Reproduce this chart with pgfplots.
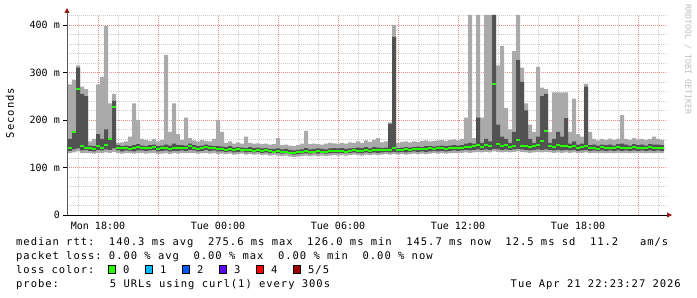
\documentclass[border=0pt]{standalone}
\usepackage{pgfplots}
\pgfplotsset{compat=1.18}
\usepackage{pgfplotstable}
\usepgfplotslibrary{fillbetween}
\usetikzlibrary{arrows.meta}
\usepackage{fontspec}
\newfontfamily\dvm{DejaVu Sans Mono}
\newfontfamily\dvmL{DejaVu Sans Mono}[LetterSpace=9.2]
\newcommand\tickfont{\dvm\fontsize{10bp}{12bp}\selectfont}
\newcommand\legfont{\dvmL\fontsize{10.5bp}{12bp}\selectfont\frenchspacing}
\definecolor{smokeL}{RGB}{170,170,170}
\definecolor{smokeD}{RGB}{82,82,82}
\definecolor{loss0}{RGB}{38,255,0}
\definecolor{loss1}{RGB}{0,184,255}
\definecolor{loss2}{RGB}{0,89,255}
\definecolor{loss3}{RGB}{94,0,255}
\definecolor{loss4}{RGB}{255,0,0}
\definecolor{loss5}{RGB}{160,0,0}
\definecolor{majgrid}{RGB}{235,140,140}
\definecolor{mingrid}{RGB}{205,205,205}
\definecolor{arrowred}{RGB}{150,25,25}

\pgfplotstableread{
t lo q1 med q3 hi
16.5 130 135 140 160 275
16.7 132 138 175 175 285
16.9 134 140 265 310 315
17.1 130 136 145 255 270
17.3 131 137 140 250 265
17.5 130 135 141 146 155
17.7 129 134 138 145 160
17.9 131 137 145 170 275
18.1 130 136 140 160 290
18.3 132 138 148 180 398
18.5 131 137 160 162 235
18.7 133 140 228 240 255
18.9 130 136 142 147 152
19.1 129 134 140 145 153
19.3 131 136 142 146 155
19.5 130 135 139 145 165
19.7 129 134 141 147 235
19.9 130 136 143 149 200
20.1 131 136 141 146 160
20.3 129 135 140 145 158
20.5 130 136 142 147 156
20.7 131 137 143 148 160
20.9 128 134 139 145 155
21.1 129 135 141 146 158
21.3 130 136 140 148 337
21.5 128 134 138 146 175
21.7 130 135 140 150 235
21.9 129 135 141 147 170
22.1 131 136 142 147 158
22.3 130 135 140 146 205
22.5 131 137 145 150 162
22.7 130 136 142 147 157
22.9 129 134 139 145 155
23.1 130 135 140 146 158
23.3 131 137 143 148 156
23.5 129 135 141 146 155
23.7 130 136 140 145 160
23.9 128 134 139 145 200
24.1 129 134 138 144 175
24.3 128 133 137 143 152
24.5 129 134 139 145 155
24.7 127 132 136 142 150
24.9 128 133 138 143 153
25.1 129 134 137 142 150
25.3 127 132 136 141 165
25.5 128 133 137 143 152
25.7 127 132 135 141 150
25.9 128 133 137 142 151
26.1 126 131 135 140 149
26.3 127 132 136 141 150
26.5 125 130 134 139 148
26.7 126 131 133 139 149
26.9 125 130 134 140 162
27.1 124 129 132 138 147
27.3 125 130 133 139 148
27.5 123 128 131 137 146
27.7 122 127 130 136 145
27.9 123 128 132 137 147
28.1 124 129 133 138 150
28.3 125 130 134 141 177
28.5 124 129 132 138 149
28.7 125 130 133 139 150
28.9 124 129 134 140 149
29.1 125 130 133 139 148
29.3 124 129 132 138 150
29.5 125 130 134 140 152
29.7 126 131 135 141 151
29.9 125 130 134 140 150
30.1 126 131 135 141 152
30.3 125 130 133 139 150
30.5 126 131 135 140 153
30.7 127 132 136 141 152
30.9 126 131 134 142 155
31.1 125 130 135 141 152
31.3 127 132 136 143 157
31.5 126 131 135 140 154
31.7 127 132 137 143 158
31.9 126 131 136 142 162
32.1 127 132 136 141 153
32.3 128 133 137 142 155
32.5 127 132 137 192 195
32.7 128 133 140 375 400
32.9 127 132 136 141 152
33.1 128 133 137 142 154
33.3 127 132 138 143 155
33.5 128 133 137 142 153
33.7 129 134 138 143 155
33.9 128 133 139 144 154
34.1 129 134 138 143 156
34.3 128 133 139 145 157
34.5 129 134 140 145 155
34.7 130 135 139 144 156
34.9 129 134 140 145 157
35.1 130 135 141 146 158
35.3 129 134 139 145 156
35.5 130 135 141 146 158
35.7 131 136 142 147 159
35.9 130 135 141 146 157
36.1 131 136 142 147 160
36.3 132 137 144 150 205
36.5 131 136 143 152 421
36.7 132 137 145 150 162
36.9 133 138 147 205 421
37.1 132 137 144 152 205
37.3 133 138 148 160 421
37.5 132 137 145 155 421
37.7 134 139 275 421 421
37.9 133 138 150 190 315
38.1 132 137 146 165 356
38.3 133 138 148 160 225
38.5 132 137 144 152 180
38.7 133 138 146 175 345
38.9 134 139 158 326 421
39.1 133 138 146 280 310
39.3 132 137 145 220 235
39.5 131 136 143 160 190
39.7 132 137 145 152 175
39.9 133 138 148 165 312
40.1 132 137 155 250 268
40.3 133 138 177 255 265
40.5 132 137 146 152 175
40.7 131 136 144 160 258
40.9 132 137 147 175 258
41.1 131 136 145 165 258
41.3 132 137 146 204 258
41.5 131 136 143 150 175
41.7 132 137 145 155 245
41.9 130 135 141 148 170
42.1 131 136 143 150 165
42.3 132 137 145 270 276
42.5 130 135 140 147 175
42.7 131 136 142 148 160
42.9 130 135 139 146 157
43.1 131 136 143 148 160
43.3 130 135 141 147 158
43.5 131 136 142 148 161
43.7 130 135 140 146 158
43.9 131 136 143 149 160
44.1 130 135 141 150 210
44.3 131 136 142 148 160
44.5 130 135 140 146 158
44.7 131 136 143 149 162
44.9 130 135 141 147 159
45.1 131 136 142 148 160
45.3 130 135 140 146 158
45.5 131 136 143 149 160
45.7 130 135 141 148 165
45.9 131 136 142 148 160
46.1 130 135 141 147 158
46.3 131 136 142 148 159
}\smoke

\begin{document}
\begin{tikzpicture}[x=1bp,y=1bp]
\begin{axis}[
  at={(67bp,82bp)}, anchor=south west,
  scale only axis, width=600bp, height=200bp,
  xmin=16.45, xmax=46.45, ymin=0, ymax=421,
  axis lines*=left,
  x axis line style={black, line width=0.8bp, shorten >=-5bp, -{Triangle[length=5bp,width=5bp,color=arrowred]}},
  y axis line style={black!65, line width=0.8bp, shorten >=-7bp, -{Triangle[length=5bp,width=5bp,color=arrowred]}},
  xtick={18,21,...,45},
  xticklabels={\mbox{Mon 18:00},,\mbox{Tue 00:00},,\mbox{Tue 06:00},,\mbox{Tue 12:00},,\mbox{Tue 18:00},},
  minor xtick={17,...,46},
  ytick={0,100,200,300,400},
  yticklabels={\mbox{0},\mbox{100 m},\mbox{200 m},\mbox{300 m},\mbox{400 m}},
  minor ytick={20,40,...,420},
  grid=both,
  major grid style={majgrid, line width=0.6bp, dash pattern=on 1bp off 1bp},
  minor grid style={mingrid, line width=0.6bp, dash pattern=on 1bp off 1bp},
  tick align=outside,
  xtick style={draw=none},
  ytick style={black, line width=0.6bp},
  major tick length=4bp, minor tick length=0pt,
  ticklabel style={font=\tickfont, inner sep=0pt},
  yticklabel style={anchor=east, xshift=-3bp},
  xticklabel style={anchor=north, yshift=-3bp},
  clip=true,
]
\addplot[name path=hi, draw=none, const plot, forget plot] table[x=t,y=hi]{\smoke};
\addplot[name path=lo, draw=none, const plot, forget plot] table[x=t,y=lo]{\smoke};
\addplot[name path=qa, draw=none, const plot, forget plot] table[x=t,y=q3]{\smoke};
\addplot[name path=qb, draw=none, const plot, forget plot] table[x=t,y=q1]{\smoke};
\addplot[fill=smokeL, draw=none, forget plot] fill between[of=hi and lo];
\addplot[fill=smokeD, draw=none, forget plot] fill between[of=qa and qb];
\addplot[jump mark left, draw=loss0, line width=2bp] table[x=t,y=med]{\smoke};
\end{axis}
% y label and watermark
\node[rotate=90, inner sep=0pt] at (10,184) {\legfont Seconds};
\node[rotate=-90, anchor=west, inner sep=0pt, text=black!25] at (688,293) {\dvm\fontsize{8.3bp}{9bp}\selectfont RRDTOOL / TOBI OETIKER};
% legend
\node[anchor=base west, inner sep=0pt] at (16,52) {\legfont median rtt:\ \ 140.3 ms avg\ \ 275.6 ms max\ \ 126.0 ms min\ \ 145.7 ms now\ \ 12.5 ms sd\ \ 11.2\ \ \ am/s};
\node[anchor=base west, inner sep=0pt] at (16,38) {\legfont packet loss: 0.00 \% avg\ \ 0.00 \% max\ \ 0.00 \% min\ \ 0.00 \% now};
\node[anchor=base west, inner sep=0pt] at (16,24) {\legfont loss color:};
\foreach \bx/\col/\lab in {108.5/loss0/0, 145.5/loss1/1, 182.5/loss2/2, 219.5/loss3/3, 256.5/loss4/4, 293.5/loss5/{5/5}}{
  \draw[fill=\col, draw=black, line width=0.8bp] (\bx,24) rectangle ++(7,8);
  \node[anchor=base west, inner sep=0pt] at (\bx+14.5,24) {\legfont \lab};
}
\node[anchor=base west, inner sep=0pt] at (16,10) {\legfont probe:\ \ \ \ \ \ \ 5 URLs using curl(1) every 300s};
\node[anchor=base east, inner sep=0pt] at (681,10) {\legfont Tue Apr 21 22:23:27 2026};
\path (0,0) rectangle (697,297);
\end{tikzpicture}
\end{document}
